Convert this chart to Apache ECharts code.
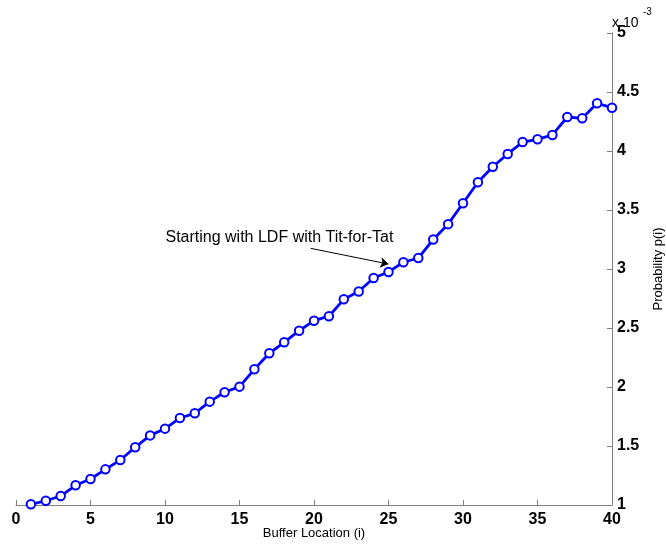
<!DOCTYPE html>
<html>
<head>
<meta charset="utf-8">
<script src="https://cdn.jsdelivr.net/npm/echarts@6/dist/echarts.min.js"></script>
<style>html,body{margin:0;padding:0;background:#fff}#c{width:666px;height:544px}</style>
</head>
<body>
<div id="c"></div>
<script>
// Buffer location i
var bufferLocation = [1,2,3,4,5,6,7,8,9,10,11,12,13,14,15,16,17,18,19,20,21,22,23,24,25,26,27,28,29,30,31,32,33,34,35,36,37,38,39,40];
// Probability p(i), in units of 10^-3
var probability = [1.006,1.036,1.076,1.167,1.220,1.302,1.381,1.489,1.590,1.647,1.737,1.777,1.876,1.955,2.003,2.150,2.286,2.379,2.477,2.562,2.600,2.743,2.810,2.924,2.975,3.057,3.093,3.250,3.380,3.557,3.735,3.867,3.975,4.076,4.099,4.136,4.288,4.277,4.404,4.367];
var xTicks = [0,5,10,15,20,25,30,35,40];
var yTicks = [1,1.5,2,2.5,3,3.5,4,4.5,5];
var annotationText = 'Starting with LDF with Tit-for-Tat';
var annotationTextPos = [17.68, 3.263];
var arrowFrom = [19.78, 3.175];
var arrowTo = [24.99, 3.042];

var chart = echarts.init(document.getElementById('c'), null, {renderer:'canvas'});
var seriesData = bufferLocation.map(function(x,i){return [x, probability[i]];});
chart.setOption({
  animation:false,
  backgroundColor:'#ffffff',
  textStyle:{fontFamily:'Liberation Sans, Arial, sans-serif'},
  graphic:[
    {type:'text',left:612,top:16,style:{text:'x 10',fontSize:14,fill:'#000',fontFamily:'Liberation Sans'}},
    {type:'text',left:643,top:7,style:{text:'-3',fontSize:10,fill:'#000',fontFamily:'Liberation Sans'}}
  ],
  grid:{left:16,right:54,top:33,bottom:39,containLabel:false,outerBoundsMode:'none'},
  xAxis:{
    type:'value', min:xTicks[0], max:xTicks[xTicks.length-1], interval:5,
    name:'Buffer Location (i)', nameLocation:'middle', nameGap:22, nameMoveOverlap:false,
    nameTextStyle:{fontSize:13,color:'#000',fontFamily:'Liberation Sans',verticalAlign:'top'},
    axisLine:{show:true,onZero:false,lineStyle:{color:'#808080',width:1}},
    axisTick:{show:true,inside:true,length:5,lineStyle:{color:'#808080'}},
    axisLabel:{fontSize:16,fontWeight:'bold',color:'#000',margin:7,fontFamily:'Liberation Sans'},
    splitLine:{show:false}
  },
  yAxis:{
    type:'value', position:'right', min:yTicks[0], max:yTicks[yTicks.length-1], interval:0.5,
    name:'Probability p(i)', nameLocation:'middle', nameGap:40, nameRotate:90, nameMoveOverlap:false,
    nameTextStyle:{fontSize:13,color:'#000',fontFamily:'Liberation Sans'},
    axisLine:{show:true,onZero:false,lineStyle:{color:'#808080',width:1}},
    axisTick:{show:true,inside:true,length:5,lineStyle:{color:'#808080'}},
    axisLabel:{fontSize:16,fontWeight:'bold',color:'#000',margin:5,fontFamily:'Liberation Sans'},
    splitLine:{show:false}
  },
  series:[{
    type:'line',
    data:seriesData,
    symbol:'emptyCircle',
    symbolSize:8.5,
    showAllSymbol:true,
    lineStyle:{color:'#0000ff',width:2.8},
    itemStyle:{color:'#0000ff',borderColor:'#0000ff',borderWidth:2.4},
    z:3,
    markLine:{
      silent:true,
      symbol:['none','arrow'],
      symbolSize:8,
      label:{show:false},
      lineStyle:{color:'#000',width:1,type:'solid'},
      itemStyle:{color:'#000'},
      data:[[{coord:arrowFrom},{coord:arrowTo}]]
    },
    markPoint:{
      silent:true,
      symbol:'circle',
      symbolSize:1,
      itemStyle:{color:'rgba(0,0,0,0)'},
      label:{show:true,position:'inside',formatter:annotationText,color:'#000',fontSize:16,fontFamily:'Liberation Sans'},
      data:[{coord:annotationTextPos}]
    }
  }]
});
</script>
</body>
</html>
